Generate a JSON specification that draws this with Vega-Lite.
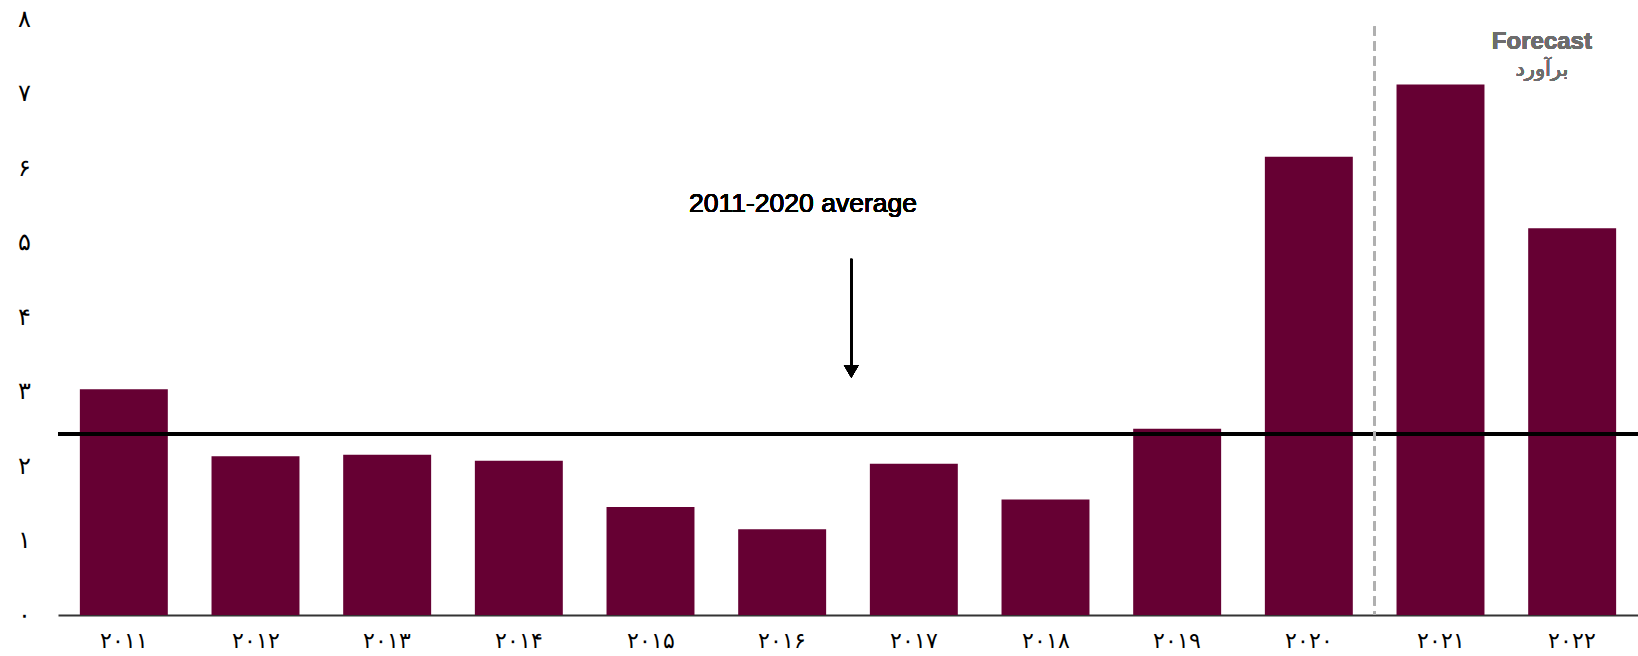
{
  "$schema": "https://vega.github.io/schema/vega-lite/v6.json",
  "width": 1580,
  "height": 596,
  "autosize": {"type": "none"},
  "padding": {"left": 58, "top": 19, "right": 0, "bottom": 41},
  "background": "white",
  "config": {"view": {"stroke": null}, "font": "Liberation Sans"},
  "data": {"values": [
    {"year": "۲۰۱۱", "value": 3.03},
    {"year": "۲۰۱۲", "value": 2.13},
    {"year": "۲۰۱۳", "value": 2.15},
    {"year": "۲۰۱۴", "value": 2.07},
    {"year": "۲۰۱۵", "value": 1.45},
    {"year": "۲۰۱۶", "value": 1.15},
    {"year": "۲۰۱۷", "value": 2.03},
    {"year": "۲۰۱۸", "value": 1.55},
    {"year": "۲۰۱۹", "value": 2.50},
    {"year": "۲۰۲۰", "value": 6.15},
    {"year": "۲۰۲۱", "value": 7.12},
    {"year": "۲۰۲۲", "value": 5.19}
  ]},
  "layer": [
    {
      "mark": {"type": "bar", "color": "#660033", "width": {"band": 0.668}},
      "encoding": {
        "x": {
          "field": "year", "type": "nominal", "sort": null,
          "scale": {"paddingInner": 0, "paddingOuter": 0},
          "axis": {"title": null, "labelAngle": 0, "ticks": false, "domain": true, "domainColor": "#333333", "domainWidth": 2, "labelFontSize": 22, "labelPadding": 25, "labelBaseline": "middle", "labelColor": "#000000", "grid": false}
        },
        "y": {
          "field": "value", "type": "quantitative",
          "scale": {"domain": [0, 8], "nice": false},
          "axis": {"title": null, "grid": false, "domain": false, "ticks": false, "labelPadding": 34, "values": [0,1,2,3,4,5,6,7,8], "labelExpr": "['۰','۱','۲','۳','۴','۵','۶','۷','۸'][datum.value]", "labelFontSize": 24, "labelColor": "#000000", "labelAlign": "center", "labelBaseline": "middle"}
        }
      }
    },
    {
      "mark": {"type": "rule", "color": "#000000", "strokeWidth": 3},
      "encoding": {"y": {"datum": 2.43, "type": "quantitative"}}
    },
    {
      "mark": {"type": "rule", "color": "#b0b0b0", "strokeWidth": 2, "strokeDash": [9, 6]},
      "encoding": {
        "x": {"datum": "۲۰۲۱", "bandPosition": 0},
        "y": {"datum": 7.9, "type": "quantitative"},
        "y2": {"datum": 0}
      }
    },
    {
      "mark": {"type": "rule", "color": "#000000", "strokeWidth": 2},
      "encoding": {
        "x": {"datum": "۲۰۱۷", "bandPosition": 0.025},
        "y": {"datum": 4.78, "type": "quantitative"},
        "y2": {"datum": 3.3}
      }
    },
    {
      "mark": {"type": "point", "shape": "triangle-down", "filled": true, "color": "#000000", "opacity": 1, "size": 220},
      "encoding": {
        "x": {"datum": "۲۰۱۷", "bandPosition": 0.025},
        "y": {"datum": 3.27, "type": "quantitative"}
      }
    },
    {
      "mark": {"type": "text", "text": "2011-2020 average", "fontSize": 26.5, "fontWeight": "normal", "color": "#000000", "align": "center", "baseline": "middle", "font": "Arial"},
      "encoding": {
        "x": {"datum": "۲۰۱۶", "bandPosition": 0.658},
        "y": {"datum": 5.52, "type": "quantitative"}
      }
    },
    {
      "mark": {"type": "text", "text": "Forecast", "fontSize": 24, "fontWeight": "bold", "color": "#6d6d6d", "align": "center", "baseline": "middle", "font": "Arial"},
      "encoding": {
        "x": {"datum": "۲۰۲۲", "bandPosition": 0.27},
        "y": {"datum": 7.69, "type": "quantitative"}
      }
    },
    {
      "mark": {"type": "text", "text": "برآورد", "fontSize": 21, "fontWeight": "normal", "color": "#6d6d6d", "align": "center", "baseline": "middle", "font": "DejaVu Sans"},
      "encoding": {
        "x": {"datum": "۲۰۲۲", "bandPosition": 0.27},
        "y": {"datum": 7.31, "type": "quantitative"}
      }
    }
  ]
}
